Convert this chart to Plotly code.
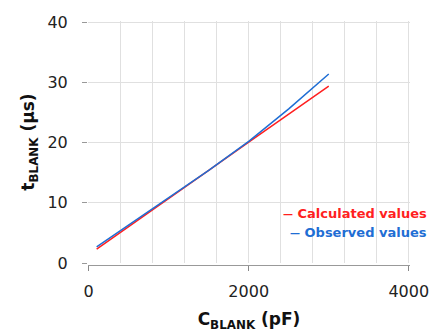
import plotly.graph_objects as go

c_blank = [100, 500, 1000, 1500, 2000, 2500, 3000]
t_calc = [2.3, 6.0, 10.7, 15.4, 20.1, 24.8, 29.4]
t_obs = [2.7, 6.3, 10.9, 15.4, 20.2, 25.6, 31.4]
series_names = ["Calculated values", "Observed values"]
series_colors = ["#ff1f1f", "#1f6ed4"]

FONT = "DejaVu Sans"

fig = go.Figure()
for y, name, col in zip([t_calc, t_obs], series_names, series_colors):
    fig.add_trace(go.Scatter(x=c_blank, y=y, mode="lines", name=name,
                             line=dict(color=col, width=1.5), showlegend=False))

# legend drawn as coloured text lines
for i, (name, col) in enumerate(zip(series_names, series_colors)):
    fig.add_annotation(xref="paper", yref="paper", x=1.06, y=0.213 - i * 0.078,
                       xanchor="right", yanchor="middle", showarrow=False,
                       text="<b><span style='font-size:10px'>\u2014</span> " + name + "</b>",
                       font=dict(family=FONT, size=13, color=col))

fig.update_layout(
    width=444, height=332,
    margin=dict(l=88, r=34, t=21, b=67),
    paper_bgcolor="white", plot_bgcolor="white",
    font=dict(family=FONT, color="#222222"),
    xaxis=dict(range=[-8, 4015], tickvals=[0, 2000, 4000], ticks="outside", ticklen=5,
               tickcolor="#888888", showline=True, linecolor="#999999", linewidth=1,
               showgrid=True, gridcolor="#e0e0e0", gridwidth=1,
               minor=dict(tickvals=[400, 800, 1200, 1600, 2400, 2800, 3200, 3600],
                          showgrid=True, gridcolor="#e0e0e0"),
               zeroline=False, anchor="free", position=0, automargin=False,
               tickfont=dict(size=16, color="#222222"), ticklabelstandoff=7,
               title=dict(text="<b>C<sub>BLANK</sub> (pF)</b>", font=dict(size=17, color="#111111"),
                          standoff=14)),
    yaxis=dict(range=[0, 40.2], tickvals=[0, 10, 20, 30, 40], ticks="outside", ticklen=5,
               tickcolor="#999999", automargin=False,
               showline=False, showgrid=True, gridcolor="#e0e0e0", zeroline=False,
               domain=[0.008, 1],
               tickfont=dict(size=16, color="#222222"), ticklabelstandoff=11,
               title=dict(text="<b>t<sub>BLANK</sub> (\u03bcs)</b>", font=dict(size=17, color="#111111"),
                          standoff=8)),
)

fig.write_html("out.html")
